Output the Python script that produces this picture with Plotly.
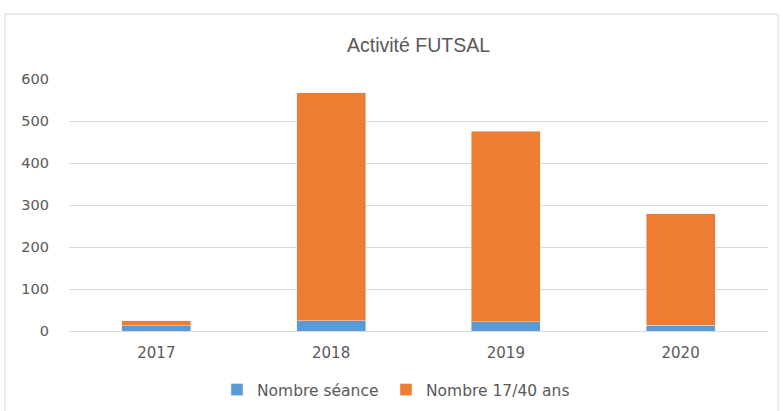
import plotly.graph_objects as go

years = ["2017", "2018", "2019", "2020"]
seances = [13, 24, 22, 14]
joueurs_17_40 = [11, 543, 454, 265]

blue = "#5B9BD5"
orange = "#ED7D31"
text_grey = "#595959"
grid_grey = "#D9D9D9"

fig = go.Figure()
fig.add_trace(go.Bar(name="Nombre séance", x=years, y=seances,
                     marker_color=blue, legend="legend", showlegend=True))
fig.add_trace(go.Bar(name="Nombre 17/40 ans", x=years, y=joueurs_17_40,
                     marker_color=orange, legend="legend2", showlegend=True))

# plot area spans x 69..768 px, y 79..331 px
L, R, T, B = 69, 15, 79, 80
W, H = 783, 411
pw, ph = W - L - R, H - T - B

def px_x(x):
    return (x - L) / pw

def px_y(y):
    return (H - B - y) / ph

legend_font = dict(family="DejaVu Sans", size=15.5, color=text_grey)

fig.update_layout(
    width=W, height=H,
    showlegend=True,
    margin=dict(l=L, r=R, t=T, b=B, autoexpand=False),
    barmode="stack",
    bargap=0.605,
    paper_bgcolor="white",
    plot_bgcolor="white",
    title=dict(
        text="Activité FUTSAL",
        x=0.5, xref="paper", xanchor="center",
        y=1 - 45 / H, yanchor="middle",
        font=dict(family="Liberation Sans", size=19.5, color=text_grey),
    ),
    font=dict(family="DejaVu Sans", size=14.5, color=text_grey),
    legend=dict(
        orientation="h", x=px_x(217), xanchor="left",
        y=px_y(390), yanchor="middle", font=legend_font,
        bgcolor="rgba(0,0,0,0)", visible=True,
    ),
    legend2=dict(
        orientation="h", x=px_x(386), xanchor="left",
        y=px_y(390), yanchor="middle", font=legend_font,
        bgcolor="rgba(0,0,0,0)", visible=True,
    ),
    xaxis=dict(
        showgrid=False,
        showline=True, linecolor=grid_grey, linewidth=1,
        ticks="", ticklabelstandoff=8,
        tickfont=dict(size=15, color=text_grey),
    ),
    yaxis=dict(
        range=[0, 600], dtick=100,
        showgrid=True, gridcolor=grid_grey, gridwidth=1,
        zeroline=True, zerolinecolor=grid_grey, zerolinewidth=1,
        showline=False, ticks="", ticklabelstandoff=19,
        tickfont=dict(size=14.5, color=text_grey),
    ),
    shapes=[
        dict(
            type="rect", xref="paper", yref="paper",
            x0=px_x(5), x1=px_x(778), y0=px_y(420), y1=px_y(14),
            line=dict(color=grid_grey, width=1), fillcolor="rgba(0,0,0,0)",
            layer="below",
        )
    ],
)

fig.write_html("out.html")
